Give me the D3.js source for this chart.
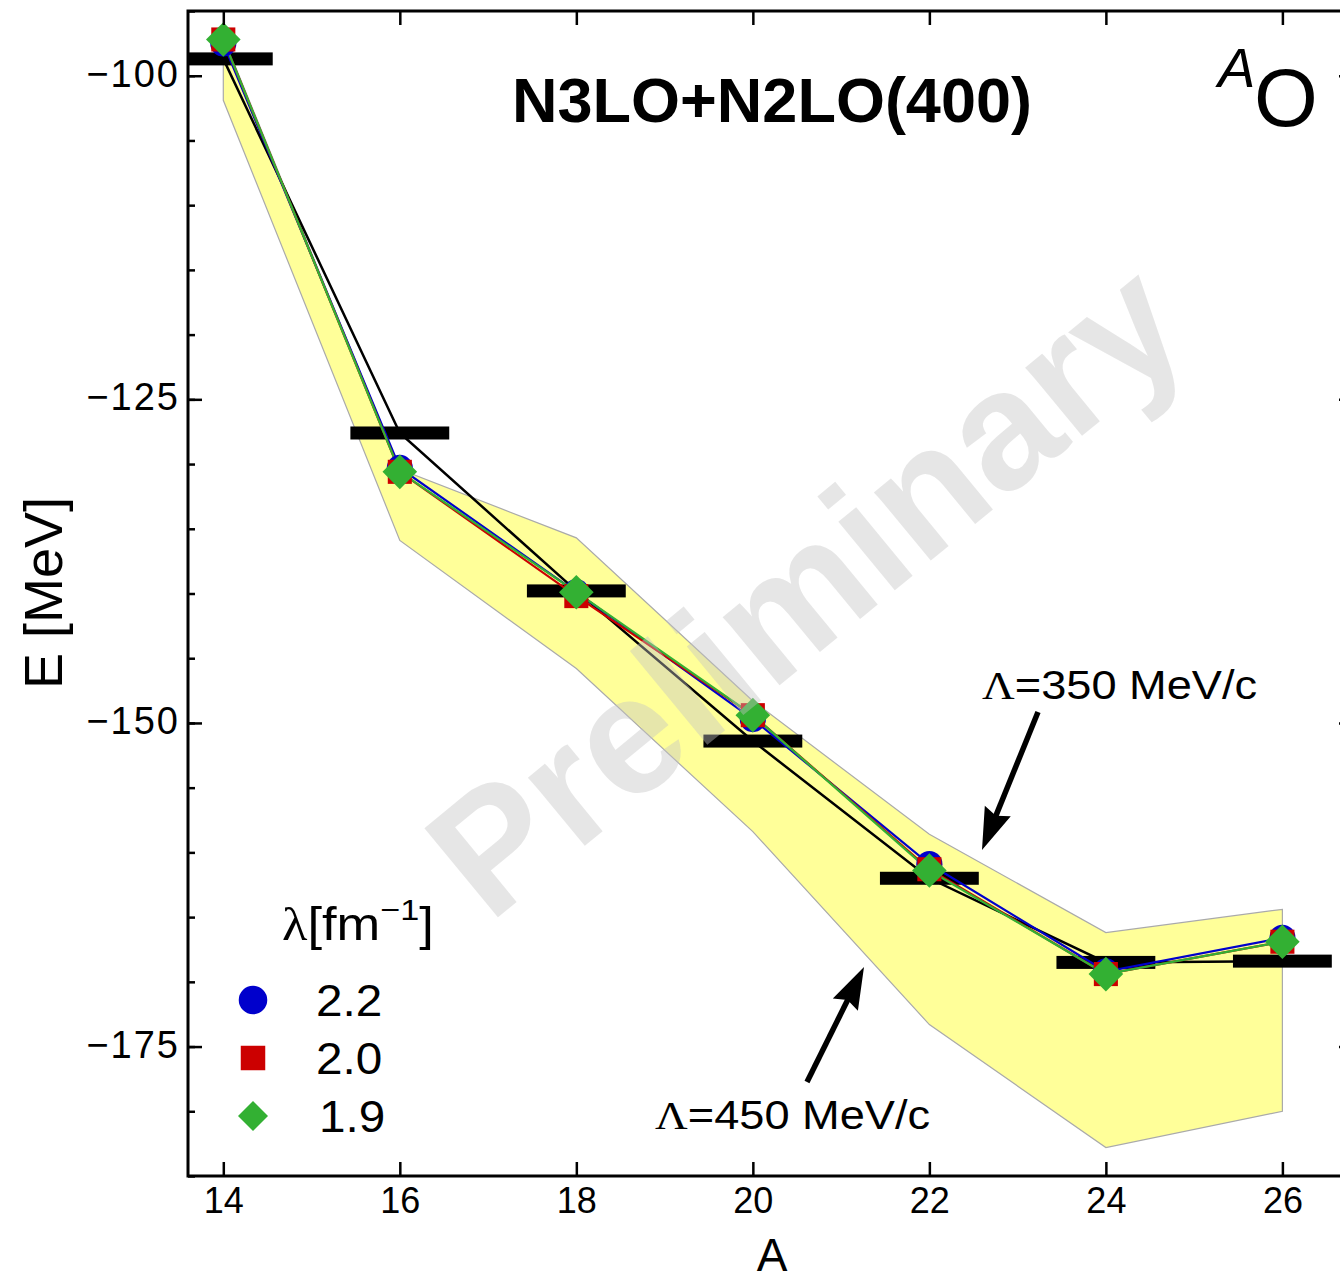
<!DOCTYPE html>
<html>
<head>
<meta charset="utf-8">
<script src="https://d3js.org/d3.v7.min.js"></script>
<style>
  body { margin: 0; background: #fff; }
  text { font-family: "Liberation Sans", Arial, Helvetica, sans-serif; }
  .serif { font-family: "Liberation Serif", "Times New Roman", serif; }
</style>
</head>
<body>
<svg id="chart" width="1340" height="1282"></svg>
<script>
// mass numbers of the oxygen chain
var massNumbers = [14, 16, 18, 20, 22, 24, 26];

// experiment
var expEnergy = [-98.7, -127.6, -139.8, -151.4, -162.0, -168.5, -168.4];

// calculations for the three SRG lambdas
var energy22 = [-97.5, -130.3, -139.9, -149.7, -160.9, -169.2, -166.6];
var energy20 = [-97.2, -130.6, -140.2, -149.4, -161.3, -169.4, -166.9];
var energy19 = [-97.2, -130.6, -139.9, -149.4, -161.4, -169.4, -166.9];

// cutoff band: Lambda=350 (upper edge) and Lambda=450 (lower edge)
var bandUpper = [-97.0, -130.4, -135.7, -148.3, -158.6, -166.2, -164.4];
var bandLower = [-101.9, -135.9, -145.8, -158.4, -173.3, -182.8, -180.0];

var yMajorTicks = [-100, -125, -150, -175];
var yMinorTicks = d3.range(-185, -94, 5);

var diamond = {
    draw: function (context, size) {
        var r = Math.sqrt(size / 2);
        context.moveTo(0, -r); context.lineTo(r, 0); context.lineTo(0, r); context.lineTo(-r, 0); context.closePath();
    }
};

var series = [
    { name: '2.2', values: energy22, color: '#0000cc', symbol: d3.symbolCircle, size: 540, legendSize: 640 },
    { name: '2.0', values: energy20, color: '#cc0000', symbol: d3.symbolSquare, size: 580, legendSize: 600 },
    { name: '1.9', values: energy19, color: '#33b033', symbol: diamond, size: 600, legendSize: 450 }
];

(function () {
    var svg = d3.select('#chart');
    var pLeft = 188, pRight = 1353, pTop = 11, pBottom = 1176;

    var x = d3.scaleLinear().domain([13.6, 26.8]).range([pLeft, pRight]);
    var y = d3.scaleLinear().domain([-185, -95]).range([pBottom, pTop]);

    svg.append('defs').append('clipPath').attr('id', 'plotArea')
        .append('rect').attr('x', pLeft).attr('y', pTop)
        .attr('width', pRight - pLeft).attr('height', pBottom - pTop);

    var plot = svg.append('g').attr('clip-path', 'url(#plotArea)');

    // band
    var bandArea = d3.area()
        .x(function (d) { return x(d.a); })
        .y0(function (d) { return y(d.lo); })
        .y1(function (d) { return y(d.hi); });
    var bandData = massNumbers.map(function (a, i) {
        return { a: a, lo: bandLower[i], hi: bandUpper[i] };
    });
    plot.append('path').datum(bandData)
        .attr('d', bandArea)
        .attr('fill', '#ffff99')
        .attr('stroke', '#aaaaaa')
        .attr('stroke-width', 1.2);

    // experimental bars
    plot.selectAll('.exp').data(expEnergy).enter().append('rect')
        .attr('x', function (d, i) { return x(massNumbers[i] - 0.56); })
        .attr('y', function (d) { return y(d) - 6.5; })
        .attr('width', x(14.56) - x(13.44))
        .attr('height', 13)
        .attr('fill', '#000');

    var line = d3.line()
        .x(function (d, i) { return x(massNumbers[i]); })
        .y(function (d) { return y(d); });

    plot.append('path').datum(expEnergy)
        .attr('d', line).attr('fill', 'none')
        .attr('stroke', '#000').attr('stroke-width', 2.5);

    series.forEach(function (s) {
        plot.append('path').datum(s.values)
            .attr('d', line).attr('fill', 'none')
            .attr('stroke', s.color).attr('stroke-width', 2.2);
    });

    series.forEach(function (s, k) {
        plot.selectAll('.m' + k).data(s.values).enter().append('path')
            .attr('transform', function (d, i) { return 'translate(' + x(massNumbers[i]) + ',' + y(d) + ')'; })
            .attr('d', d3.symbol().type(s.symbol).size(s.size))
            .attr('fill', s.color);
    });

    // watermark on top, semi transparent
    svg.append('text')
        .attr('transform', 'translate(805,588) rotate(-39.5)')
        .attr('text-anchor', 'middle')
        .attr('dy', '0.35em')
        .style('font-size', '168px')
        .style('font-weight', 'bold')
        .attr('fill', '#c4c4c4')
        .attr('fill-opacity', 0.42)
        .text('Preliminary');

    // axes frame
    var axisG = svg.append('g');
    axisG.append('path')
        .attr('d', 'M' + pRight + ',' + pTop + 'H' + pLeft + 'V' + pBottom + 'H' + pRight + 'V' + pTop)
        .attr('fill', 'none').attr('stroke', '#000').attr('stroke-width', 3);

    var xAxisBottom = d3.axisBottom(x).tickValues(massNumbers).tickSizeInner(-14).tickSizeOuter(0).tickPadding(11);
    var xAxisTop = d3.axisTop(x).tickValues(massNumbers).tickSizeInner(-14).tickSizeOuter(0).tickFormat('');
    var yAxisMinor = d3.axisLeft(y).tickValues(yMinorTicks).tickSizeInner(-7).tickSizeOuter(0).tickFormat('');
    var yAxisMajor = d3.axisLeft(y).tickValues(yMajorTicks).tickSizeInner(-14).tickSizeOuter(0).tickPadding(8)
        .tickFormat(function (d) { return '\u2212' + Math.abs(d); });
    var yAxisRight = d3.axisRight(y).tickValues(yMajorTicks).tickSizeInner(-14).tickSizeOuter(0).tickFormat('');

    function styleAxis(g, fontSize) {
        g.select('.domain').remove();
        g.selectAll('.tick line').attr('stroke', '#000').attr('stroke-width', 2.5);
        g.selectAll('.tick text').attr('fill', '#000').style('font-size', fontSize)
            .style('font-family', '"Liberation Sans", Arial, sans-serif');
    }

    var xg = axisG.append('g').attr('transform', 'translate(0,' + pBottom + ')').call(xAxisBottom).call(styleAxis, '36px');
    xg.selectAll('.tick text').attr('dy', '0.71em');
    axisG.append('g').attr('transform', 'translate(0,' + pTop + ')').call(xAxisTop).call(styleAxis, '36px');
    axisG.append('g').attr('transform', 'translate(' + pLeft + ',0)').call(yAxisMinor).call(styleAxis, '36px');
    var yg = axisG.append('g').attr('transform', 'translate(' + pLeft + ',0)').call(yAxisMajor).call(styleAxis, '38px');
    yg.selectAll('.tick text').attr('dy', '0.28em').style('letter-spacing', '2px');
    axisG.append('g').attr('transform', 'translate(' + pRight + ',0)').call(yAxisRight).call(styleAxis, '36px');

    // axis labels
    svg.append('text').attr('x', 772).attr('y', 1271).attr('text-anchor', 'middle')
        .style('font-size', '46px').text('A');
    svg.append('text').attr('transform', 'translate(62,593) rotate(-90)').attr('text-anchor', 'middle')
        .style('font-size', '54px').text('E [MeV]');

    // title and nucleus label
    svg.append('text').attr('x', 772).attr('y', 122).attr('text-anchor', 'middle')
        .style('font-size', '63px').style('font-weight', 'bold').text('N3LO+N2LO(400)');
    svg.append('text').attr('x', 1218).attr('y', 87)
        .style('font-size', '56px').style('font-style', 'italic').text('A');
    svg.append('text').attr('x', 1254).attr('y', 126)
        .style('font-size', '82px').text('O');

    // cutoff annotations
    function cutoffLabel(xPos, yPos, value) {
        var t = svg.append('text')
            .attr('transform', 'translate(' + xPos + ',' + yPos + ') scale(1.13,1)')
            .style('font-size', '40px');
        t.append('tspan').attr('class', 'serif').text('\u039b');
        t.append('tspan').text('=' + value + ' MeV/c');
    }
    cutoffLabel(982, 699, 350);
    cutoffLabel(655, 1129, 450);

    function arrow(x1, y1, x2, y2) {
        var ang = Math.atan2(y2 - y1, x2 - x1);
        var headLen = 42, headHalf = 14;
        var bx = x2 - headLen * Math.cos(ang), by = y2 - headLen * Math.sin(ang);
        svg.append('line').attr('x1', x1).attr('y1', y1).attr('x2', bx + 6 * Math.cos(ang)).attr('y2', by + 6 * Math.sin(ang))
            .attr('stroke', '#000').attr('stroke-width', 5.5);
        var px = -Math.sin(ang) * headHalf, py = Math.cos(ang) * headHalf;
        svg.append('path')
            .attr('d', 'M' + x2 + ',' + y2 + 'L' + (bx + px) + ',' + (by + py) +
                'L' + (bx + 0.12 * (x2 - bx)) + ',' + (by + 0.12 * (y2 - by)) +
                'L' + (bx - px) + ',' + (by - py) + 'Z')
            .attr('fill', '#000');
    }
    arrow(1038, 712, 982, 850);
    arrow(807, 1082, 864, 967);

    // legend
    var legend = svg.append('g');
    var lt = legend.append('text')
        .attr('transform', 'translate(282,940) scale(1.14,1)')
        .style('font-size', '46px');
    lt.append('tspan').attr('class', 'serif').text('\u03bb');
    lt.append('tspan').text('[fm');
    lt.append('tspan').attr('dy', -20).style('font-size', '30px').text('\u22121');
    lt.append('tspan').attr('dy', 20).text(']');

    series.forEach(function (s, i) {
        var cy = 1000 + i * 58;
        legend.append('path')
            .attr('transform', 'translate(253,' + cy + ')')
            .attr('d', d3.symbol().type(s.symbol).size(s.legendSize))
            .attr('fill', s.color);
        legend.append('text')
            .attr('transform', 'translate(' + (i === 2 ? 319 : 316) + ',' + (cy + 16) + ') scale(1.06,1)')
            .style('font-size', '45px').text(s.name);
    });
})();
</script>
</body>
</html>
